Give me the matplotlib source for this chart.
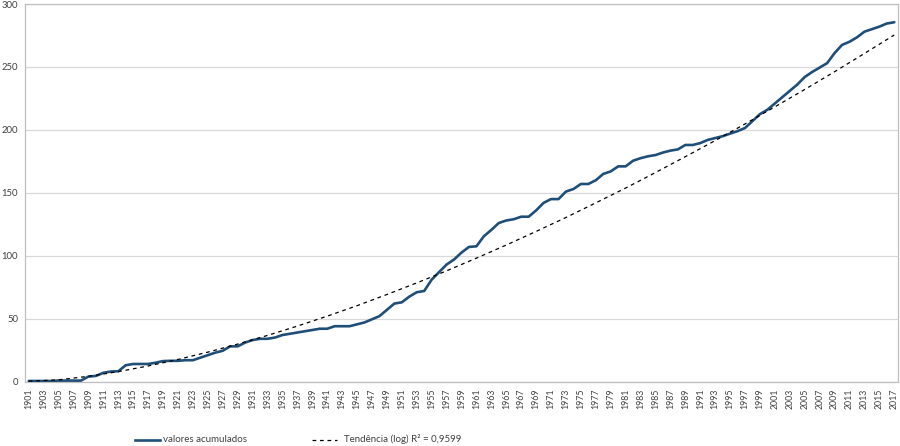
import matplotlib
matplotlib.use("Agg")
import matplotlib.pyplot as plt
from matplotlib.lines import Line2D

plt.rcParams['font.family'] = ['Lato', 'DejaVu Sans']

# ---- data -------------------------------------------------------------
years = list(range(1901, 2018))
valores_acumulados = [
    0.5, 0.5, 0.5, 0.5, 0.8, 0.8, 0.8, 0.8, 4, 4.5,                 # 1901-1910
    7, 8, 8.2, 13, 14, 14, 14, 15, 16.3, 16.5,                       # 1911-1920
    16.5, 17, 17, 19, 21, 23, 24.5, 28, 28, 31,                      # 1921-1930
    33, 34, 34, 35, 37, 38, 39, 40, 41, 42,                          # 1931-1940
    42, 44, 44, 44, 45.5, 47, 49.5, 52, 57, 62,                      # 1941-1950
    63, 67.5, 71, 72, 81, 87, 93, 97, 102.5, 107,                    # 1951-1960
    107.5, 115.5, 120.5, 126, 128, 129, 131, 131, 136, 142,          # 1961-1970
    145, 145, 151, 153, 157, 157, 160, 165, 167, 171,                # 1971-1980
    171, 175.5, 177.5, 179, 180, 182, 183.5, 184.5, 188, 188,        # 1981-1990
    189.5, 192, 193.5, 195, 197, 199, 201.5, 207, 212.5, 216,        # 1991-2000
    221, 226, 231, 236, 242, 246, 249.5, 253, 261, 267.5,            # 2001-2010
    270, 273.5, 278, 280, 282, 284.5, 285.5,                         # 2011-2017
]

trend_years = list(range(1901, 2018, 4))
trend_values = [
    0.3, 1.4, 4.2, 7.9, 12.4, 17.6, 23.4, 29.8, 36.7, 44.1,
    52.0, 60.3, 69.2, 78.4, 88.0, 98.1, 108.5, 119.3, 130.4, 142.0,
    153.8, 166.1, 178.7, 191.5, 204.7, 218.3, 232.1, 246.2, 260.7, 275.4,
]

x_tick_labels = [str(y) for y in range(1901, 2018, 2)]
y_ticks = [0, 50, 100, 150, 200, 250, 300]

series_label = "valores acumulados"
trend_label = "Tendência (log) R² = 0,9599"

# ---- figure -----------------------------------------------------------
W, H = 900, 446
fig = plt.figure(figsize=(W / 100, H / 100), dpi=100)
ax = fig.add_axes([25 / W, 1 - 381.6 / H, (898 - 25) / W, (381.6 - 4) / H])

line_color = "#1f4e79"
grid_color = "#d9d9d9"
frame_color = "#bfbfbf"

ax.plot(years, valores_acumulados, color=line_color, lw=1.9,
        solid_joinstyle="round", solid_capstyle="round", zorder=3)
ax.plot(trend_years, trend_values, color="black", lw=0.9,
        linestyle=(0, (3, 3)), zorder=4)

ax.set_xlim(1900.5, 2017.5)
ax.set_ylim(0, 300)
ax.set_yticks(y_ticks)
ax.set_yticklabels([str(v) for v in y_ticks])
ax.set_xticks(list(range(1901, 2018, 2)))
ax.set_xticklabels(x_tick_labels, rotation=90, va="top", ha="center")

ax.yaxis.grid(True, color=grid_color, lw=0.9)
ax.set_axisbelow(True)
ax.tick_params(axis="both", length=0, colors="#404040")
ax.tick_params(axis="x", labelsize=6.3, pad=5)
ax.tick_params(axis="y", labelsize=6.8, pad=5)
for s in ax.spines.values():
    s.set_color(frame_color)
    s.set_linewidth(0.9)

# ---- legend (bottom) ----------------------------------------------------
ly = 1 - 439.5 / H
fig.add_artist(Line2D([135 / W, 160 / W], [ly, ly], color=line_color, lw=1.9,
                      transform=fig.transFigure))
fig.text(163 / W, ly, series_label, fontsize=7, va="center", ha="left", color="#404040")
fig.add_artist(Line2D([311.5 / W, 337 / W], [ly, ly], color="black", lw=0.9,
                      linestyle=(0, (3, 3)), transform=fig.transFigure))
fig.text(344 / W, ly, trend_label, fontsize=7, va="center", ha="left", color="#404040")

fig.savefig("out.png", dpi=100)
